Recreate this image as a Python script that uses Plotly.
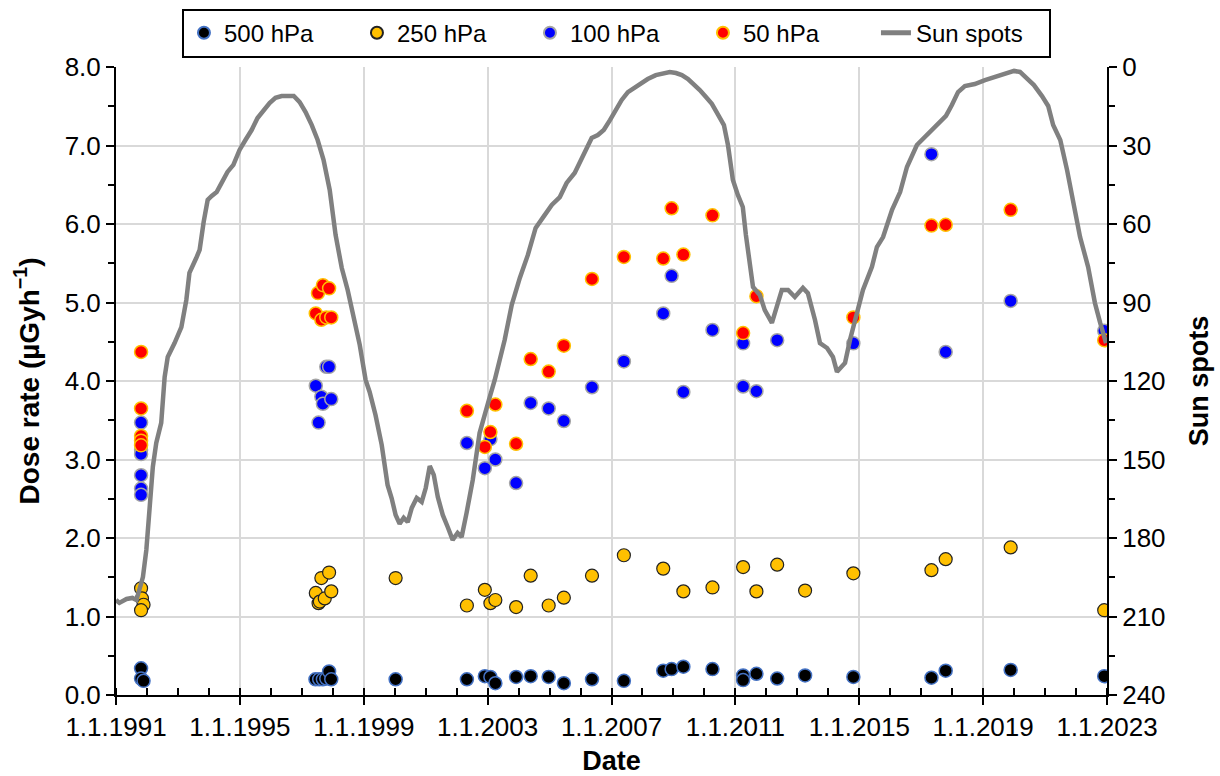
import plotly.graph_objects as go
from datetime import datetime

# ---------------- data (decimal years) ----------------
p500_dates = [1991.81, 1991.81, 1991.89, 1997.44, 1997.56, 1997.68, 1997.79, 1997.88, 1997.95,
              2000.03, 2002.33, 2002.91, 2003.09, 2003.25, 2003.92, 2004.39, 2004.97, 2005.46,
              2006.37, 2007.40, 2008.67, 2008.94, 2009.32, 2010.26, 2011.25, 2011.25, 2011.68,
              2012.35, 2013.25, 2014.81, 2017.33, 2017.79, 2019.89, 2022.91]
p500_vals = [0.34, 0.21, 0.18, 0.20, 0.20, 0.20, 0.21, 0.30, 0.20,
             0.20, 0.20, 0.24, 0.23, 0.15, 0.23, 0.24, 0.23, 0.15,
             0.20, 0.18, 0.31, 0.33, 0.36, 0.33, 0.25, 0.19, 0.27,
             0.21, 0.25, 0.23, 0.22, 0.31, 0.32, 0.24]

p250_dates = [1991.81, 1991.84, 1991.89, 1991.81, 1997.45, 1997.54, 1997.58, 1997.63, 1997.74,
              1997.88, 1997.95, 2000.03, 2002.33, 2002.91, 2003.09, 2003.25, 2003.92, 2004.39,
              2004.97, 2005.46, 2006.37, 2007.40, 2008.67, 2009.32, 2010.26, 2011.25, 2011.68,
              2012.35, 2013.25, 2014.81, 2017.33, 2017.79, 2019.89, 2022.91]
p250_vals = [1.36, 1.23, 1.15, 1.08, 1.30, 1.17, 1.19, 1.49, 1.23,
             1.56, 1.32, 1.49, 1.14, 1.34, 1.17, 1.21, 1.12, 1.52,
             1.14, 1.24, 1.52, 1.78, 1.61, 1.32, 1.37, 1.63, 1.32,
             1.66, 1.33, 1.55, 1.59, 1.73, 1.88, 1.08]

p100_dates = [1991.81, 1991.81, 1991.81, 1991.81, 1991.81, 1991.81,
              1997.45, 1997.54, 1997.63, 1997.68, 1997.79, 1997.88, 1997.95,
              2002.33, 2002.91, 2003.09, 2003.25, 2003.92, 2004.39, 2004.97, 2005.46,
              2006.37, 2007.40, 2008.67, 2008.94, 2009.32, 2010.26, 2011.25, 2011.25,
              2011.68, 2012.35, 2014.81, 2017.33, 2017.79, 2019.89, 2022.91]
p100_vals = [3.47, 3.12, 3.07, 2.80, 2.63, 2.55,
             3.94, 3.47, 3.80, 3.71, 4.18, 4.18, 3.77,
             3.21, 2.89, 3.26, 3.00, 2.70, 3.72, 3.65, 3.49,
             3.92, 4.25, 4.86, 5.34, 3.86, 4.65, 4.48, 3.93,
             3.87, 4.52, 4.48, 6.89, 4.37, 5.02, 4.64]

p50_dates = [1991.81, 1991.81, 1991.81, 1991.81, 1991.81,
             1997.45, 1997.52, 1997.63, 1997.68, 1997.79, 1997.88, 1997.95,
             2002.33, 2002.91, 2003.09, 2003.25, 2003.92, 2004.39, 2004.97, 2005.46,
             2006.37, 2007.40, 2008.67, 2008.94, 2009.32, 2010.26, 2011.25, 2011.68,
             2014.81, 2017.33, 2017.79, 2019.89, 2022.91]
p50_vals = [4.37, 3.65, 3.30, 3.24, 3.18,
            4.86, 5.12, 4.78, 5.22, 4.81, 5.18, 4.81,
            3.62, 3.16, 3.35, 3.70, 3.20, 4.28, 4.12, 4.45,
            5.30, 5.58, 5.56, 6.20, 5.61, 6.11, 4.61, 5.08,
            4.81, 5.98, 5.99, 6.18, 4.52]

ss_dates = [1991.00, 1991.11, 1991.34, 1991.53, 1991.66, 1991.76, 1991.87, 1991.98, 1992.08, 1992.19,
            1992.30, 1992.46, 1992.57, 1992.67, 1992.89, 1993.11, 1993.27, 1993.37, 1993.59, 1993.70,
            1993.83, 1993.96, 1994.09, 1994.25, 1994.41, 1994.60, 1994.79, 1994.99, 1995.18, 1995.38,
            1995.57, 1995.77, 1995.96, 1996.15, 1996.35, 1996.54, 1996.74, 1996.93, 1997.12, 1997.32,
            1997.51, 1997.70, 1997.90, 1998.09, 1998.29, 1998.48, 1998.67, 1998.87, 1999.06, 1999.19,
            1999.38, 1999.58, 1999.77, 1999.90, 2000.03, 2000.16, 2000.29, 2000.42, 2000.55, 2000.71,
            2000.87, 2001.00, 2001.13, 2001.26, 2001.39, 2001.55, 2001.71, 2001.87, 2002.03, 2002.16,
            2002.32, 2002.52, 2002.74, 2002.91, 2003.07, 2003.23, 2003.55, 2003.78, 2004.04, 2004.30,
            2004.55, 2004.84, 2005.07, 2005.33, 2005.55, 2005.81, 2005.97, 2006.17, 2006.36, 2006.56,
            2006.75, 2006.95, 2007.14, 2007.33, 2007.53, 2007.72, 2007.91, 2008.17, 2008.43, 2008.69,
            2008.88, 2009.08, 2009.27, 2009.47, 2009.66, 2009.85, 2010.05, 2010.24, 2010.43, 2010.63,
            2010.76, 2010.92, 2011.08, 2011.24, 2011.34, 2011.47, 2011.57, 2011.79, 2011.95, 2012.18,
            2012.34, 2012.50, 2012.70, 2012.92, 2013.18, 2013.34, 2013.57, 2013.73, 2013.96, 2014.15,
            2014.28, 2014.54, 2014.70, 2014.93, 2015.12, 2015.41, 2015.57, 2015.77, 2016.06, 2016.32,
            2016.54, 2016.86, 2017.12, 2017.38, 2017.61, 2017.80, 2017.99, 2018.19, 2018.41, 2018.73,
            2019.06, 2019.38, 2019.71, 2020.00, 2020.19, 2020.42, 2020.64, 2020.90, 2021.10, 2021.26,
            2021.49, 2021.71, 2021.90, 2022.13, 2022.39, 2022.61, 2022.78, 2022.97]
ss_vals = [203.7, 204.8, 203.3, 202.9, 203.7, 199.8, 194.9, 184.6, 169.3, 152.8,
           143.7, 136.0, 118.5, 110.8, 105.5, 99.4, 89.0, 78.7, 73.0, 69.9,
           59.2, 50.8, 49.3, 47.8, 44.3, 40.1, 37.4, 31.7, 27.9, 24.1,
           19.5, 16.4, 13.8, 11.8, 11.1, 11.1, 11.1, 13.4, 17.2, 22.2,
           27.9, 35.5, 47.0, 64.2, 76.8, 85.2, 95.9, 106.2, 119.6, 124.2,
           133.0, 144.4, 159.7, 164.7, 171.2, 174.6, 172.3, 173.9, 168.5, 164.7,
           166.2, 160.9, 152.5, 155.9, 164.3, 171.2, 175.8, 180.7, 178.1, 179.6,
           170.4, 157.8, 139.9, 132.2, 126.1, 119.6, 104.3, 90.9, 80.6, 71.8,
           61.5, 56.6, 52.7, 49.7, 44.3, 40.5, 36.7, 31.7, 27.1, 26.0,
           24.1, 20.3, 16.4, 12.6, 9.6, 8.0, 6.9, 4.6, 3.1, 2.3,
           1.9, 2.3, 3.1, 4.6, 6.5, 8.8, 11.5, 14.1, 18.0, 22.2,
           29.8, 43.2, 48.9, 53.5, 64.2, 74.9, 84.1, 87.1, 92.9, 97.8,
           91.7, 85.2, 85.2, 87.9, 84.4, 86.4, 96.7, 105.5, 107.4, 110.8,
           116.5, 113.1, 104.3, 94.0, 85.2, 76.4, 68.8, 65.0, 54.6, 47.8,
           38.2, 29.8, 26.7, 24.1, 21.0, 18.7, 14.5, 9.6, 7.3, 6.5,
           5.0, 3.8, 2.7, 1.5, 1.9, 4.2, 6.9, 11.1, 14.9, 22.2,
           27.9, 39.4, 52.0, 65.0, 76.4, 90.2, 97.8, 105.5]


def to_date(d):
    y = int(d)
    a, b = datetime(y, 1, 1), datetime(y + 1, 1, 1)
    return a + (b - a) * (d - y)


FONT = "Liberation Sans, Arial, sans-serif"
MS = 13
X_RANGE = [to_date(1991.0), to_date(2023.0)]

fig = go.Figure()

fig.add_trace(go.Scatter(
    x=[to_date(d) for d in p500_dates], y=p500_vals, mode="markers", name="500 hPa",
    marker=dict(size=MS, color="#000000", line=dict(color="#4472C4", width=1.5))))
fig.add_trace(go.Scatter(
    x=[to_date(d) for d in p250_dates], y=p250_vals, mode="markers", name="250 hPa",
    marker=dict(size=MS, color="#FFC000", line=dict(color="#222222", width=1.2))))
fig.add_trace(go.Scatter(
    x=[to_date(d) for d in p100_dates], y=p100_vals, mode="markers", name="100 hPa",
    marker=dict(size=MS, color="#0000FF", line=dict(color="#A5A5A5", width=1.5))))
fig.add_trace(go.Scatter(
    x=[to_date(d) for d in p50_dates], y=p50_vals, mode="markers", name="50 hPa",
    marker=dict(size=MS, color="#FF0000", line=dict(color="#FFC000", width=1.5))))
fig.add_trace(go.Scatter(
    x=[to_date(d) for d in ss_dates], y=ss_vals, mode="lines", name="Sun spots",
    yaxis="y2", line=dict(color="#808080", width=4.5)))

fig.update_layout(
    width=1220, height=776,
    margin=dict(l=116, r=113, t=67, b=81, autoexpand=False),
    paper_bgcolor="white", plot_bgcolor="white",
    font=dict(family=FONT, size=26, color="black"),
    showlegend=True,
    legend=dict(orientation="h", x=0.505, xanchor="center", y=1.093, yanchor="top",
                bordercolor="black", borderwidth=2, bgcolor="white",
                font=dict(size=24), itemsizing="constant",
                entrywidth=128, entrywidthmode="pixels"),
    xaxis=dict(
        type="date", range=X_RANGE,
        tick0=to_date(1991.0), dtick="M48", tickformat="%-d.%-m.%Y",
        showgrid=True, gridcolor="#D9D9D9", gridwidth=2,
        showline=True, linecolor="black", linewidth=2,
        ticks="outside", ticklen=8, tickwidth=2, tickcolor="black",
        minor=dict(dtick="M12", ticks="inside", ticklen=7, tickwidth=2, tickcolor="black", showgrid=False),
        title=dict(text="<b>Date</b>", standoff=14, font=dict(size=27)),
        zeroline=False, automargin=False,
    ),
    # companion axis: inner half of the major x ticks (ticks cross the axis line)
    xaxis2=dict(
        type="date", range=X_RANGE, overlaying="x", anchor="y", side="bottom",
        tick0=to_date(1991.0), dtick="M48", showticklabels=False,
        ticks="inside", ticklen=8, tickwidth=2, tickcolor="black",
        showgrid=False, showline=False, zeroline=False, automargin=False,
    ),
    yaxis=dict(
        range=[0, 8], dtick=1, tickformat=".1f",
        showgrid=True, gridcolor="#D9D9D9", gridwidth=2,
        showline=True, linecolor="black", linewidth=2,
        ticks="outside", ticklen=8, tickwidth=2, tickcolor="black",
        minor=dict(dtick=0.5, ticks="outside", ticklen=6, tickwidth=2, tickcolor="black", showgrid=False),
        title=dict(text="<b>Dose rate (µGyh<sup>−1</sup>)</b>", standoff=17, font=dict(size=28)),
        zeroline=False, automargin=False,
    ),
    yaxis2=dict(
        overlaying="y", side="right", range=[240, 0], dtick=30,
        showgrid=False, showline=True, linecolor="black", linewidth=2,
        ticks="outside", ticklen=8, tickwidth=2, tickcolor="black",
        minor=dict(dtick=15, ticks="outside", ticklen=6, tickwidth=2, tickcolor="black"),
        title=dict(text="<b>Sun spots</b>", standoff=25, font=dict(size=27)),
        zeroline=False, automargin=False,
    ),
)

fig.write_html("out.html")
